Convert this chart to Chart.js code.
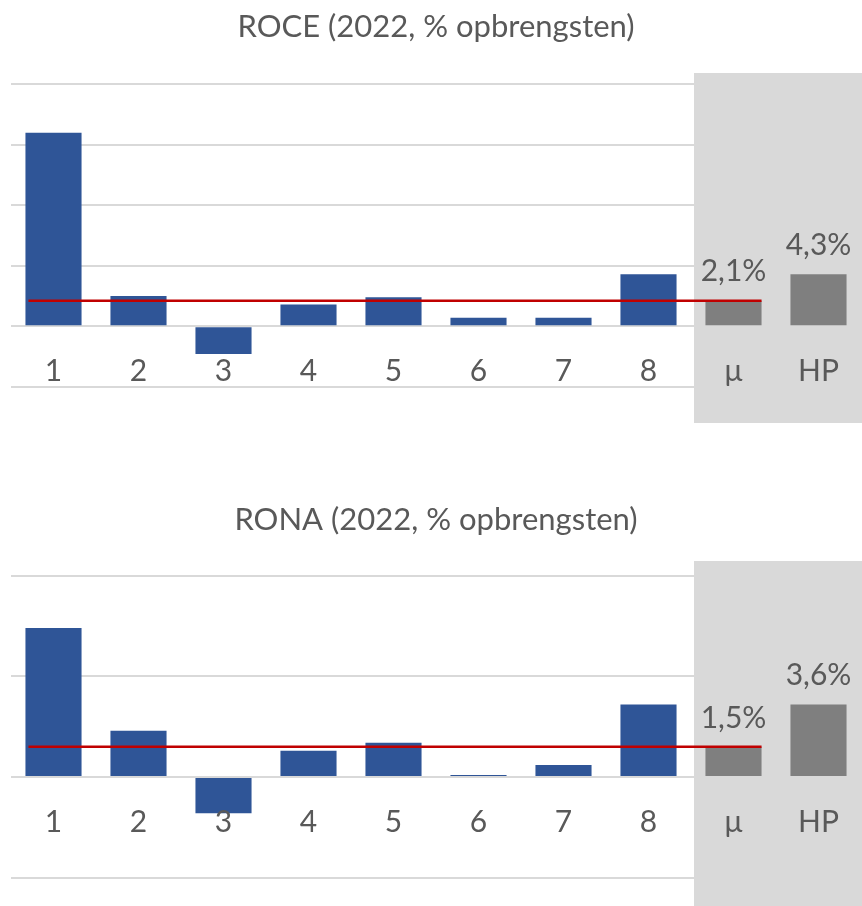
<!DOCTYPE html>
<html>
<head>
<meta charset="utf-8">
<script src="https://cdn.jsdelivr.net/npm/chart.js@4.4.1/dist/chart.umd.min.js"></script>
<style>
  body { margin: 0; background: #fff; }
  .blok { width: 862px; height: 453px; }
</style>
</head>
<body>
<div class="blok"><canvas id="grafiekRoce" width="862" height="453"></canvas></div>
<div class="blok"><canvas id="grafiekRona" width="862" height="453"></canvas></div>
<script>
const categorieen = ["1", "2", "3", "4", "5", "6", "7", "8", "μ", "HP"];
const roce = [16.0, 2.5, -2.3, 1.8, 2.4, 0.7, 0.7, 4.3, 2.1, 4.3];
const rona = [7.4, 2.3, -1.8, 1.3, 1.7, 0.1, 0.6, 3.6, 1.5, 3.6];
const roceAs = { min: -5, max: 20, stap: 5 };
const ronaAs = { min: -5, max: 10, stap: 5 };

const lettertype = "Lato, 'Open Sans', sans-serif";
const tekstKleur = "#595959";
const blauw = "#2f5597";
const grijs = "#7f7f7f";

function formatPct(v) {
  return v.toFixed(1).replace(".", ",") + "%";
}

// grijze achtergrond achter mu en HP
const achtergrond = {
  id: "achtergrond",
  beforeDatasetsDraw(chart, args, opts) {
    const { ctx, chartArea } = chart;
    const meta = chart.getDatasetMeta(0);
    const b8 = meta.data[7];
    const bmu = meta.data[8];
    const links = (b8.x + b8.width / 2 + bmu.x - bmu.width / 2) / 2 + 3;
    ctx.save();
    ctx.fillStyle = "#d9d9d9";
    ctx.fillRect(links, chartArea.top - opts.boven, chart.width - links,
      chartArea.bottom - chartArea.top + opts.boven + opts.onder);
    ctx.restore();
  }
};

// mediaanlijn en labels boven mu en HP
const mediaan = {
  id: "mediaan",
  afterDatasetsDraw(chart) {
    const { ctx } = chart;
    const meta = chart.getDatasetMeta(0);
    const data = chart.data.datasets[0].data;
    const y = chart.scales.y.getPixelForValue(data[8]);
    const x1 = meta.data[0].x - meta.data[0].width / 2 + 3;
    const x2 = meta.data[8].x + meta.data[8].width / 2;
    ctx.save();
    ctx.strokeStyle = "#c00000";
    ctx.lineWidth = 2.5;
    ctx.beginPath();
    ctx.moveTo(x1, y);
    ctx.lineTo(x2, y);
    ctx.stroke();

    ctx.fillStyle = tekstKleur;
    ctx.font = "30px " + lettertype;
    ctx.textAlign = "center";
    ctx.textBaseline = "bottom";
    [8, 9].forEach((i) => {
      const bar = meta.data[i];
      ctx.fillText(formatPct(data[i]), bar.x, bar.y - 14);
    });
    ctx.restore();
  }
};

function maakGrafiek(id, titel, waarden, as, titelPad, layoutPad, grijsVlak) {
  return new Chart(document.getElementById(id), {
    type: "bar",
    data: {
      labels: categorieen,
      datasets: [
        {
          data: waarden,
          backgroundColor: categorieen.map((c, i) => (i < 8 ? blauw : grijs)),
          barPercentage: 0.66,
          categoryPercentage: 1,
        },
      ],
    },
    options: {
      responsive: false,
      animation: false,
      layout: { padding: layoutPad },
      plugins: {
        legend: { display: false },
        tooltip: { enabled: false },
        title: {
          display: true,
          text: titel,
          color: tekstKleur,
          font: { family: lettertype, size: 31, weight: "normal" },
          padding: titelPad,
        },
        achtergrond: grijsVlak,
      },
      scales: {
        x: {
          position: { y: 0 },
          grid: { display: false },
          border: { display: false },
          ticks: {
            z: 1,
            color: tekstKleur,
            font: { family: lettertype, size: 30, weight: "normal" },
            padding: 19,
            autoSkip: false,
            maxRotation: 0,
          },
        },
        y: {
          min: as.min,
          max: as.max,
          ticks: { display: false, stepSize: as.stap },
          border: { display: false },
          grid: { color: "#d9d9d9", lineWidth: 2, drawTicks: false },
        },
      },
    },
    plugins: [achtergrond, mediaan],
  });
}

maakGrafiek("grafiekRoce", "ROCE (2022, % opbrengsten)", roce, roceAs,
  { top: 8.4, bottom: 38.7 }, { left: 11, right: 1, top: 0, bottom: 66.3 },
  { boven: 11.3, onder: 36.3 });

maakGrafiek("grafiekRona", "RONA (2022, % opbrengsten)", rona, ronaAs,
  { top: 48.4, bottom: 37.1 }, { left: 11, right: 1, top: 0, bottom: 28.3 },
  { boven: 14.7, onder: 40 });
</script>
</body>
</html>
